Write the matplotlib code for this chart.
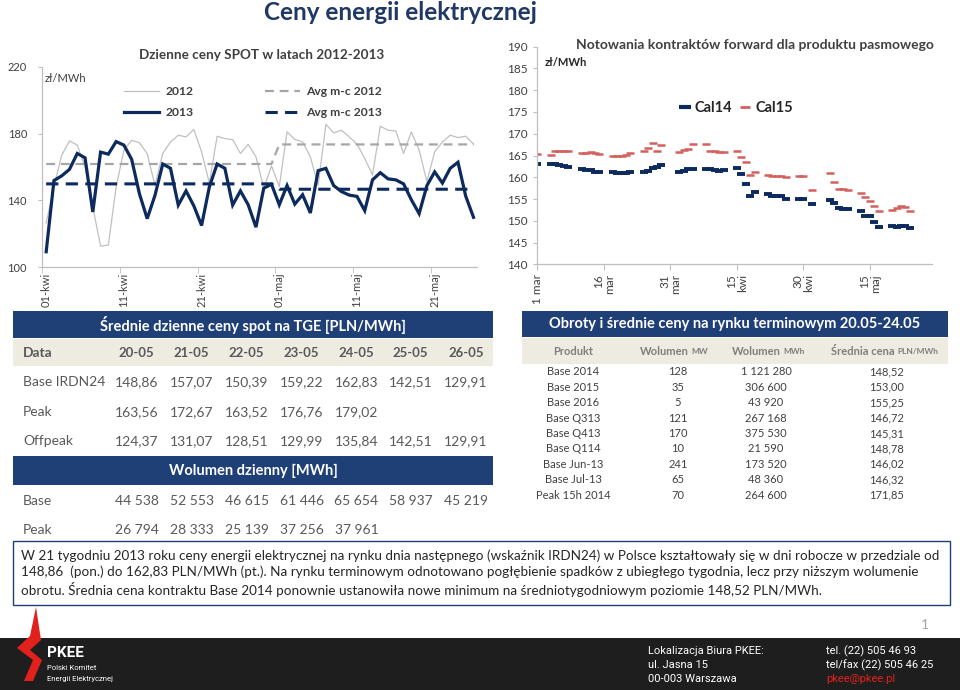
import numpy as np
import matplotlib
matplotlib.use('Agg')
import matplotlib.pyplot as plt
from matplotlib.patches import Rectangle, Polygon
from matplotlib.lines import Line2D
import pandas as pd

plt.rcParams['font.family'] = ['Lato', 'DejaVu Sans']

# ---------------- DATA ----------------
# Daily SPOT prices (01-kwi .. 26-maj)
spot_2012 = [126.5, 148.3, 167.1, 175.6, 173.1, 160.0, 136.0, 112.7, 113.3, 148.0,
             170.0, 176.0, 174.5, 168.0, 149.0, 168.1, 175.0, 179.0, 178.0, 182.4,
             169.1, 150.3, 178.4, 177.0, 176.4, 168.1, 173.5, 166.1, 147.3, 160.6,
             148.3, 181.0, 176.5, 175.0, 166.1, 149.0, 185.5, 180.4, 182.0, 178.0,
             173.7, 165.1, 155.2, 184.4, 182.0, 181.6, 168.1, 181.0, 170.1, 151.3,
             169.1, 175.0, 179.0, 177.6, 178.4, 173.7]
spot_2013 = [109.3, 151.9, 154.7, 158.6, 168.1, 165.5, 133.1, 168.9, 167.7, 175.2,
             173.1, 164.6, 144.0, 129.1, 143.0, 161.8, 159.2, 137.2, 145.7, 136.8,
             125.0, 148.1, 161.8, 159.2, 137.2, 145.7, 137.4, 124.0, 147.3, 149.7,
             137.4, 148.9, 137.8, 143.4, 132.5, 157.8, 159.2, 148.9, 145.3, 143.2,
             142.4, 133.9, 152.3, 156.6, 152.9, 152.3, 149.9, 140.4, 132.1, 148.86,
             157.07, 150.39, 159.22, 162.83, 142.51, 129.91]
month_days = [30, 26]              # April, May (to 26th)
avg_2012 = [161.8, 173.5]          # monthly averages
avg_2013 = [149.9, 146.7]
spot_tick_idx = [0, 10, 20, 30, 40, 50]
spot_tick_labels = ['01-kwi', '11-kwi', '21-kwi', '01-maj', '11-maj', '21-maj']

# Forward contracts (trading days)
fwd_dates = ['2013-03-01', '2013-03-04', '2013-03-05', '2013-03-06', '2013-03-07', '2013-03-08',
             '2013-03-11', '2013-03-12', '2013-03-13', '2013-03-14', '2013-03-15',
             '2013-03-18', '2013-03-19', '2013-03-20', '2013-03-21', '2013-03-22',
             '2013-03-25', '2013-03-26', '2013-03-27', '2013-03-28', '2013-03-29',
             '2013-04-02', '2013-04-03', '2013-04-04', '2013-04-05',
             '2013-04-08', '2013-04-09', '2013-04-10', '2013-04-11', '2013-04-12',
             '2013-04-15', '2013-04-16', '2013-04-17', '2013-04-18', '2013-04-19',
             '2013-04-22', '2013-04-23', '2013-04-24', '2013-04-25', '2013-04-26',
             '2013-04-29', '2013-04-30', '2013-05-02',
             '2013-05-06', '2013-05-07', '2013-05-08', '2013-05-09', '2013-05-10',
             '2013-05-13', '2013-05-14', '2013-05-15', '2013-05-16', '2013-05-17',
             '2013-05-20', '2013-05-21', '2013-05-22', '2013-05-23', '2013-05-24']
cal14 = [163.0, 163.0, 163.0, 162.8, 162.5, 162.4,
         161.8, 161.7, 161.6, 161.2, 161.1,
         161.1, 161.0, 160.9, 161.0, 161.2,
         161.1, 161.5, 162.2, 162.4, 162.8,
         161.3, 161.5, 161.9, 162.0,
         161.9, 161.8, 161.6, 161.5, 161.7,
         162.1, 160.7, 158.5, 155.8, 156.7,
         156.1, 155.8, 155.6, 155.7, 155.0,
         155.1, 155.1, 153.9,
         154.8, 154.0, 152.9, 152.8, 152.6,
         152.3, 151.1, 151.0, 149.8, 148.5,
         148.7, 148.6, 148.8, 148.7, 148.3]
cal15 = [165.3, 165.1, 166.1, 166.1, 166.0, 166.0,
         165.5, 165.6, 165.9, 165.5, 165.4,
         165.0, 164.9, 164.9, 165.2, 165.5,
         166.0, 166.8, 167.8, 166.1, 167.4,
         165.7, 166.3, 166.6, 167.6,
         167.6, 166.0, 166.0, 165.7, 165.7,
         166.0, 164.7, 163.4, 160.5, 161.3,
         160.5, 160.3, 160.2, 160.2, 160.0,
         160.2, 160.2, 157.1,
         160.9, 158.8, 157.2, 157.2, 157.0,
         156.3, 155.4, 154.6, 153.5, 152.3,
         152.5, 153.0, 153.3, 153.1, 152.3]
fwd_tick_dates = ['2013-03-01', '2013-03-16', '2013-03-31', '2013-04-15', '2013-04-30', '2013-05-15']
fwd_tick_labels = ['1 mar', '16\nmar', '31\nmar', '15\nkwi', '30\nkwi', '15\nmaj']

# Spot table
spot_cols = ['20-05', '21-05', '22-05', '23-05', '24-05', '25-05', '26-05']
base_irdn24 = ['148,86', '157,07', '150,39', '159,22', '162,83', '142,51', '129,91']
peak_price = ['163,56', '172,67', '163,52', '176,76', '179,02', '', '']
offpeak_price = ['124,37', '131,07', '128,51', '129,99', '135,84', '142,51', '129,91']
vol_base = ['44 538', '52 553', '46 615', '61 446', '65 654', '58 937', '45 219']
vol_peak = ['26 794', '28 333', '25 139', '37 256', '37 961', '', '']

# Forward table
fwd_products = ['Base 2014', 'Base 2015', 'Base 2016', 'Base Q313', 'Base Q413',
                'Base Q114', 'Base Jun-13', 'Base Jul-13', 'Peak 15h 2014']
fwd_vol_mw = ['128', '35', '5', '121', '170', '10', '241', '65', '70']
fwd_vol_mwh = ['1 121 280', '306 600', '43 920', '267 168', '375 530',
               '21 590', '173 520', '48 360', '264 600']
fwd_avg_price = ['148,52', '153,00', '155,25', '146,72', '145,31',
                 '148,78', '146,02', '146,32', '171,85']

comment = ("W 21 tygodniu 2013 roku ceny energii elektrycznej na rynku dnia następnego (wskaźnik IRDN24) w Polsce kształtowały się w dni robocze w przedziale od\n"
           "148,86  (pon.) do 162,83 PLN/MWh (pt.). Na rynku terminowym odnotowano pogłębienie spadków z ubiegłego tygodnia, lecz przy niższym wolumenie\n"
           "obrotu. Średnia cena kontraktu Base 2014 ponownie ustanowiła nowe minimum na średniotygodniowym poziomie 148,52 PLN/MWh.")

# ---------------- STYLE ----------------
NAVY = '#0c2a5e'
BANNER = '#1f3f77'
BEIGE = '#eeece1'
GRAY_TXT = '#595959'
AX_GRAY = '#bfbfbf'
RED = '#d4605e'

W, H = 960, 690
fig = plt.figure(figsize=(9.6, 6.9), dpi=100)
fig.patch.set_facecolor('white')


def fx(x):
    return x / W


def fy(y):
    return 1 - y / H


def add_ax(x0, y0, x1, y1):
    return fig.add_axes([fx(x0), fy(y1), (x1 - x0) / W, (y1 - y0) / H])


def rect(x0, y0, x1, y1, **kw):
    fig.add_artist(Rectangle((fx(x0), fy(y1)), (x1 - x0) / W, (y1 - y0) / H,
                             transform=fig.transFigure, **kw))


def txt(x, y, s, **kw):
    kw.setdefault('va', 'center')
    fig.text(fx(x), fy(y), s, **kw)


# ---------------- MAIN TITLE ----------------
txt(400, 13, 'Ceny energii elektrycznej', ha='center', fontsize=17.5, weight='bold', color='#1f3864')

# ---------------- LEFT CHART ----------------
ax1 = add_ax(42.3, 66.7, 477.4, 267.3)
x = np.arange(len(spot_2013))
avg12_daily = np.repeat(avg_2012, month_days)
avg13_daily = np.repeat(avg_2013, month_days)
l12, = ax1.plot(x, spot_2012, color='#c0c0c0', lw=0.9, label='2012')
la12, = ax1.plot(x, avg12_daily, color='#a6a6a6', lw=1.6, dashes=(4, 2.6), label='Avg m-c 2012')
la13, = ax1.plot(x, avg13_daily, color=NAVY, lw=2.2, dashes=(4, 2.4), label='Avg m-c 2013')
l13, = ax1.plot(x, spot_2013, color=NAVY, lw=2.3, label='2013', solid_joinstyle='miter')
ax1.set_xlim(-0.5, 55.5)
ax1.set_ylim(100, 220)
ax1.set_yticks([100, 140, 180, 220])
ax1.set_xticks(spot_tick_idx)
ax1.set_xticklabels(spot_tick_labels, rotation=90, fontsize=8, color='#404040')
ax1.set_xticks([i - 0.5 for i in spot_tick_idx], minor=True)
ax1.tick_params(axis='x', which='major', length=0, pad=4)
ax1.tick_params(axis='x', which='minor', length=4, color=AX_GRAY)
ax1.tick_params(axis='y', length=3, color=AX_GRAY, pad=8, labelsize=8, labelcolor='#404040')
for s in ['top', 'right']:
    ax1.spines[s].set_visible(False)
for s in ['left', 'bottom']:
    ax1.spines[s].set_color(AX_GRAY)
    ax1.spines[s].set_linewidth(0.9)
txt(262, 55, 'Dzienne ceny SPOT w latach 2012-2013', ha='center', fontsize=9.7, weight='bold', color='#404040')
txt(45, 78, 'zł/MWh', ha='left', fontsize=8, color='#404040')
fig.legend(handles=[l12, l13, la12, la13], ncol=2, loc='center',
           bbox_to_anchor=(fx(253), fy(102)), frameon=False,
           prop={'size': 8.7, 'weight': 'bold'}, handlelength=2.9, columnspacing=5.9,
           handletextpad=0.5, labelspacing=0.85, labelcolor='#404040')

# ---------------- RIGHT CHART ----------------
ax2 = add_ax(537.3, 46.7, 932, 264.3)
fd = pd.to_datetime(fwd_dates)
h14, = ax2.plot(fd, cal14, ls='none', marker='_', ms=6, mew=2.8, color=NAVY, label='Cal14')
h15, = ax2.plot(fd, cal15, ls='none', marker='_', ms=5.5, mew=1.8, color=RED, label='Cal15')
ax2.set_xlim(pd.Timestamp('2013-03-01'), pd.Timestamp('2013-05-29'))
ax2.set_ylim(140, 190)
ax2.set_yticks(np.arange(140, 191, 5))
ax2.set_xticks(pd.to_datetime(fwd_tick_dates))
ax2.set_xticklabels(fwd_tick_labels, rotation=90, fontsize=8.5, color='#404040',
                    multialignment='right', linespacing=1.0)
ax2.tick_params(axis='x', length=4, color=AX_GRAY, pad=3)
ax2.tick_params(axis='y', length=3, color=AX_GRAY, pad=4, labelsize=8.5, labelcolor='#404040')
for s in ['top', 'right']:
    ax2.spines[s].set_visible(False)
for s in ['left', 'bottom']:
    ax2.spines[s].set_color(AX_GRAY)
    ax2.spines[s].set_linewidth(0.9)
txt(755, 45, 'Notowania kontraktów forward dla produktu pasmowego', ha='center',
    fontsize=10, weight='bold', color='#404040')
txt(545, 63, 'zł/MWh', ha='left', fontsize=8, weight='bold', color='#262626')
leg_h14 = Line2D([], [], ls='none', marker='_', ms=8, mew=3, color=NAVY)
leg_h15 = Line2D([], [], ls='none', marker='_', ms=7, mew=2, color=RED)
fig.legend(handles=[leg_h14, leg_h15], labels=['Cal14', 'Cal15'], ncol=2, loc='center',
           bbox_to_anchor=(fx(736), fy(108)), frameon=False,
           prop={'size': 10.5, 'weight': 'bold'}, handlelength=0.8, columnspacing=0.5,
           handletextpad=0.3, labelcolor='#262626')

# ---------------- LEFT TABLE ----------------
rect(13, 311, 493, 338, facecolor=BANNER, edgecolor='none')
txt(253, 325, 'Średnie dzienne ceny spot na TGE [PLN/MWh]', ha='center', fontsize=10.5,
    weight='bold', color='white')
rect(13, 339, 493, 366, facecolor=BEIGE, edgecolor='none')
col_x = [136.7, 191.7, 246.7, 301.7, 356.5, 410.7, 466]
txt(23, 353, 'Data', ha='left', fontsize=10, weight='bold', color=GRAY_TXT)
for cx, c in zip(col_x, spot_cols):
    txt(cx, 353, c, ha='center', fontsize=9.5, weight='bold', color=GRAY_TXT)
rows = [('Base IRDN24', base_irdn24, 382), ('Peak', peak_price, 412), ('Offpeak', offpeak_price, 441)]
for name, vals, yy in rows:
    txt(23, yy, name, ha='left', fontsize=10, color=GRAY_TXT)
    for cx, v in zip(col_x, vals):
        txt(cx, yy, v, ha='center', fontsize=10, color=GRAY_TXT)
rect(13, 456, 493, 485, facecolor=BANNER, edgecolor='none')
txt(253, 471, 'Wolumen dzienny [MWh]', ha='center', fontsize=10.5, weight='bold', color='white')
for name, vals, yy in [('Base', vol_base, 501), ('Peak', vol_peak, 530)]:
    txt(23, yy, name, ha='left', fontsize=10, color=GRAY_TXT)
    for cx, v in zip(col_x, vals):
        txt(cx, yy, v, ha='center', fontsize=10, color=GRAY_TXT)

# ---------------- RIGHT TABLE ----------------
rect(521.5, 311, 948, 337, facecolor=BANNER, edgecolor='none')
txt(735, 324, 'Obroty i średnie ceny na rynku terminowym 20.05-24.05', ha='center',
    fontsize=10.5, weight='bold', color='white')
rect(521.5, 338, 948, 364, facecolor=BEIGE, edgecolor='none')
HDR = '#7f7f7f'
txt(573, 351.5, 'Produkt', ha='center', fontsize=8, weight='bold', color=HDR)
txt(689, 351.5, 'Wolumen', ha='right', fontsize=8, weight='bold', color=HDR)
txt(691, 352, 'MW', ha='left', fontsize=6, weight='bold', color=HDR)
txt(781, 351.5, 'Wolumen', ha='right', fontsize=8, weight='bold', color=HDR)
txt(783, 352, 'MWh', ha='left', fontsize=6, weight='bold', color=HDR)
txt(895, 351.5, 'Średnia cena', ha='right', fontsize=8, weight='bold', color=HDR)
txt(897, 352, 'PLN/MWh', ha='left', fontsize=6, weight='bold', color=HDR)
row_y0, row_dy = 371.7, 15.45
for i, (p, a, b, c) in enumerate(zip(fwd_products, fwd_vol_mw, fwd_vol_mwh, fwd_avg_price)):
    yy = row_y0 + i * row_dy
    txt(573, yy, p, ha='center', fontsize=8, color='#404040')
    txt(678, yy, a, ha='center', fontsize=8, color='#404040')
    txt(766, yy, b, ha='center', fontsize=8, color='#404040')
    txt(886, yy, c, ha='center', fontsize=8, color='#404040')

# ---------------- COMMENT BOX ----------------
rect(13, 541, 950, 605, facecolor='white', edgecolor=BANNER, linewidth=1.0)
txt(21, 573.5, comment, ha='left', fontsize=9.7, color='#262626', linespacing=1.3)

# ---------------- FOOTER ----------------
txt(925, 625, '1', ha='center', fontsize=10, color='#a6a6a6')
rect(0, 638, 960, 690, facecolor='#1e1e1e', edgecolor='none')
fig.add_artist(Polygon([(fx(36), fy(607)), (fx(41), fy(640)), (fx(30), fy(650)),
                        (fx(42), fy(660)), (fx(33), fy(681)), (fx(24), fy(681)),
                        (fx(33), fy(660)), (fx(17), fy(648)), (fx(30), fy(636))],
                       closed=True, transform=fig.transFigure, facecolor='#e2211c', edgecolor='none'))
txt(47, 653, 'PKEE', ha='left', fontsize=11, weight='bold', color='white', family='Roboto')
txt(47, 668, 'Polski Komitet', ha='left', fontsize=5.5, color='white', family='Roboto')
txt(47, 679, 'Energii Elektrycznej', ha='left', fontsize=5.5, color='white', family='Roboto')
txt(648, 651, 'Lokalizacja Biura PKEE:', ha='left', fontsize=8, color='white', family='Roboto')
txt(648, 665, 'ul. Jasna 15', ha='left', fontsize=8, color='white', family='Roboto')
txt(648, 679, '00-003 Warszawa', ha='left', fontsize=8, color='white', family='Roboto')
txt(826, 651, 'tel. (22) 505 46 93', ha='left', fontsize=8, color='white', family='Roboto')
txt(826, 665, 'tel/fax (22) 505 46 25', ha='left', fontsize=8, color='white', family='Roboto')
txt(826, 679, 'pkee@pkee.pl', ha='left', fontsize=8, color='#e2211c', family='Roboto')

fig.savefig('out.png', dpi=100)
